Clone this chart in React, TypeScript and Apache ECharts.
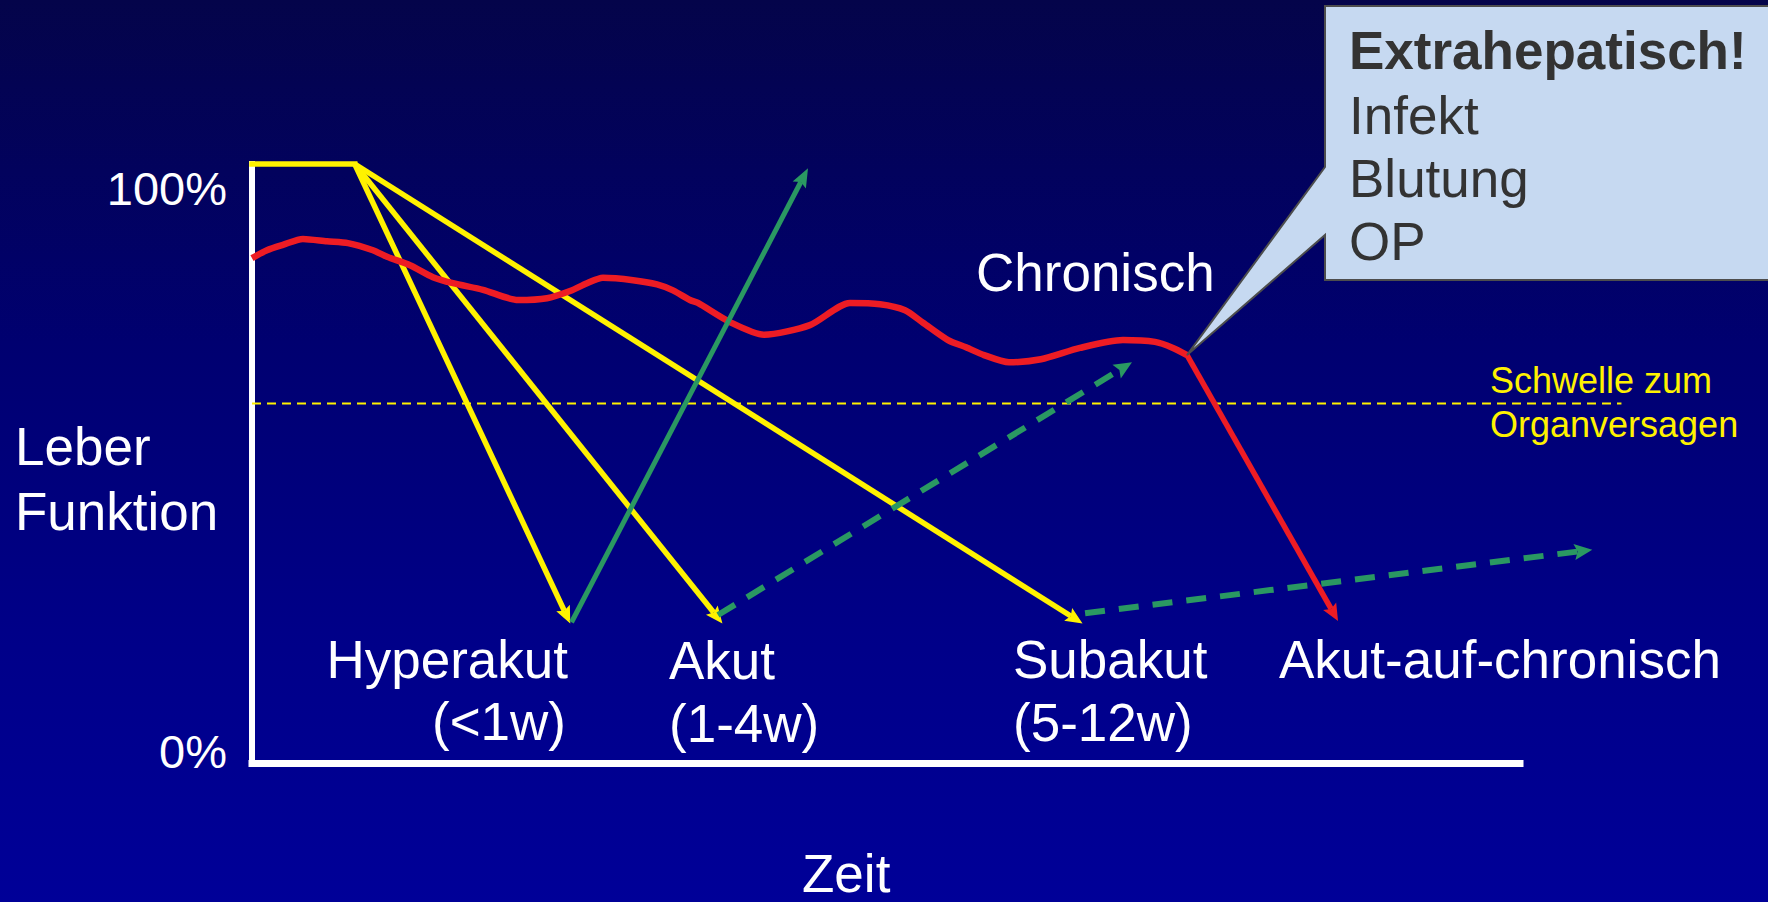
import React, { useEffect, useRef } from 'react';
import * as echarts from 'echarts';

const FONT = '"Liberation Sans", Arial, Helvetica, sans-serif';

// ---- data (x: time, arbitrary units 0..100; y: liver function %) ----
const yTickValues = [0, 100];
const yTickLabels = ['0%', '100%'];
const yAxisName = ['Leber', 'Funktion'];
const xAxisName = 'Zeit';

const plateau = [[0, 100], [8.1, 100]];
const declineStart = [8.1, 100];
const declineEnds = [[25.1, 23.3], [37.1, 23.3], [65.5, 23.3]];

const recoverySolid = [[25.2, 23.5, 43.85, 99.3]];
const recoveryDashed = [[36.75, 24.7, 69.4, 66.9], [65.7, 25.0, 105.7, 35.6]];

const chronicCurve = [
  [0, 84.3], [1.18, 85.6], [2.44, 86.5], [4.02, 87.5], [5.91, 87.1], [7.57, 86.8],
  [9.54, 85.6], [10.65, 84.5], [12.46, 83.1], [14.27, 81.1], [15.85, 80.1], [18.22, 79.0],
  [20.98, 77.3], [23.26, 77.6], [25.08, 78.8], [26.42, 80.1], [27.68, 81.0], [30.05, 80.6],
  [31.94, 79.9], [33.2, 78.9], [34.54, 77.3], [35.17, 76.8], [37.7, 73.6], [40.38, 71.5],
  [44.0, 73.1], [47.16, 76.8], [49.53, 76.6], [51.5, 75.6], [52.92, 73.5], [54.89, 70.6],
  [56.31, 69.4], [57.73, 68.1], [59.7, 66.9], [62.22, 67.4], [65.3, 69.3], [68.69, 70.6],
  [71.21, 70.3], [72.63, 69.3], [73.74, 68.1],
];
const acuteOnChronic = [[73.74, 68.1, 85.65, 23.7]];

const thresholdLevel = 60;
const thresholdExtent = [0, 108];

const phaseNames = ['Hyperakut', 'Akut', 'Subakut', 'Akut-auf-chronisch'];
const phaseDurations = ['(<1w)', '(1-4w)', '(5-12w)'];
const chronicLabel = 'Chronisch';
const thresholdLabel = ['Schwelle zum', 'Organversagen'];
const calloutTitle = 'Extrahepatisch!';
const calloutItems = ['Infekt', 'Blutung', 'OP'];

// ---- colours ----
const YELLOW = '#FFF200';
const RED = '#ED1C24';
const GREEN = '#2A9862';
const WHITE = '#FFFFFF';

function segmentSeries(
  name: string,
  data: number[][],
  color: string,
  width: number,
  dash: number[] | null,
  head: { len: number; w: number } | null,
  z: number
) {
  return {
    type: 'custom',
    name,
    coordinateSystem: 'cartesian2d',
    clip: false,
    z,
    data,
    encode: { x: [0, 2], y: [1, 3] },
    renderItem: (_params: any, api: any) => {
      const a = api.coord([api.value(0), api.value(1)]);
      const b = api.coord([api.value(2), api.value(3)]);
      const style: any = { stroke: color, lineWidth: width, fill: null, lineCap: 'butt' };
      if (dash) style.lineDash = dash;
      if (!head) {
        return { type: 'line', shape: { x1: a[0], y1: a[1], x2: b[0], y2: b[1] }, style };
      }
      const dx = b[0] - a[0];
      const dy = b[1] - a[1];
      const len = Math.hypot(dx, dy) || 1;
      const ux = dx / len;
      const uy = dy / len;
      const base = [b[0] - ux * head.len, b[1] - uy * head.len];
      const notch = [b[0] - ux * head.len * 0.82, b[1] - uy * head.len * 0.82];
      const hw = head.w / 2;
      const left = [base[0] - uy * hw, base[1] + ux * hw];
      const right = [base[0] + uy * hw, base[1] - ux * hw];
      return {
        type: 'group',
        children: [
          { type: 'line', shape: { x1: a[0], y1: a[1], x2: notch[0], y2: notch[1] }, style },
          { type: 'polygon', shape: { points: [b, left, notch, right] }, style: { fill: color, stroke: null } },
        ],
      };
    },
  };
}

function txt(text: string, x: number, y: number, size: number, color: string, align = 'left', weight = 'normal') {
  return {
    type: 'text',
    x,
    y,
    z: 20,
    silent: true,
    style: {
      text,
      fill: color,
      fontSize: size,
      fontFamily: FONT,
      fontWeight: weight,
      lineHeight: Math.round(size * 0.8),
      align,
      verticalAlign: 'middle',
    },
  };
}

export default function App() {
  const ref = useRef<HTMLDivElement>(null);

  useEffect(() => {
    if (!ref.current) return;
    const chart = echarts.init(ref.current, undefined, { renderer: 'svg' });

    chart.setOption({
      animation: false,
      backgroundColor: 'transparent',
      grid: { left: 252, right: 248, top: 164, bottom: 139, containLabel: false },
      xAxis: {
        type: 'value',
        min: 0,
        max: 100,
        axisLine: { show: true, lineStyle: { color: WHITE, width: 7, cap: 'square' } },
        axisTick: { show: false },
        axisLabel: { show: false },
        splitLine: { show: false },
      },
      yAxis: {
        type: 'value',
        min: 0,
        max: 100,
        axisLine: { show: true, lineStyle: { color: WHITE, width: 6, cap: 'square' } },
        axisTick: { show: false },
        axisLabel: { show: false },
        splitLine: { show: false },
      },
      series: [
        segmentSeries(
          'Schwelle',
          [[thresholdExtent[0], thresholdLevel, thresholdExtent[1], thresholdLevel]],
          YELLOW,
          2,
          [9, 6],
          null,
          1
        ),
        {
          type: 'line',
          name: 'Plateau',
          data: plateau,
          symbol: 'none',
          clip: false,
          z: 3,
          lineStyle: { color: YELLOW, width: 5.5, cap: 'square' },
        },
        segmentSeries(
          'Verlauf',
          declineEnds.map((e) => [declineStart[0], declineStart[1], e[0], e[1]]),
          YELLOW,
          5.5,
          null,
          { len: 17, w: 15 },
          3
        ),
        {
          type: 'line',
          name: 'Chronisch',
          data: chronicCurve,
          symbol: 'none',
          smooth: 0.25,
          clip: false,
          z: 4,
          lineStyle: { color: RED, width: 6.5, join: 'round' },
        },
        segmentSeries('Erholung', recoverySolid, GREEN, 5, null, { len: 19, w: 15 }, 5),
        segmentSeries('Erholung verzögert', recoveryDashed, GREEN, 6, [20, 14], { len: 18, w: 16 }, 5),
        segmentSeries('Akut-auf-chronisch', acuteOnChronic, RED, 5.5, null, { len: 17, w: 15 }, 6),
      ],
    });

    const px = (p: number[]) => chart.convertToPixel({ gridIndex: 0 } as any, p) as number[];
    const axisX = px([0, 0])[0];
    const tip = px([acuteOnChronic[0][0], acuteOnChronic[0][1]]);

    const tickOffsets: Record<number, number> = { 0: -11.5, 100: 24.5 };
    const graphics: any[] = [];

    yTickValues.forEach((v, i) => {
      const p = px([0, v]);
      graphics.push(txt(yTickLabels[i], axisX - 25, p[1] + tickOffsets[v], 47, WHITE, 'right'));
    });

    graphics.push(txt(yAxisName[0], 15, 446.5, 53, WHITE));
    graphics.push(txt(yAxisName[1], 15, 511.5, 53, WHITE));
    graphics.push(txt(xAxisName, 802, 873, 53, WHITE));

    // phase labels
    graphics.push(txt(phaseNames[0], 568, 659, 53, WHITE, 'right'));
    graphics.push(txt(phaseDurations[0], 566, 721, 53, WHITE, 'right'));
    graphics.push(txt(phaseNames[1], 669, 660, 53, WHITE));
    graphics.push(txt(phaseDurations[1], 669, 723, 53, WHITE));
    graphics.push(txt(phaseNames[2], 1013, 659.5, 53, WHITE));
    graphics.push(txt(phaseDurations[2], 1013, 722.5, 53, WHITE));
    graphics.push(txt(phaseNames[3], 1279, 659.5, 53, WHITE));

    graphics.push(txt(chronicLabel, 976, 272.5, 53, WHITE));
    graphics.push(txt(thresholdLabel[0], 1490, 380.5, 36, YELLOW));
    graphics.push(txt(thresholdLabel[1], 1490, 424.5, 36, YELLOW));

    // callout
    graphics.push({
      type: 'polygon',
      z: 15,
      silent: true,
      shape: {
        points: [
          [1325, 6], [1785, 6], [1785, 280], [1325, 280], [1325, 235],
          [tip[0], tip[1]], [1325, 167],
        ],
      },
      style: { fill: '#C6D9F1', stroke: '#4D4D4D', lineWidth: 2 },
    });
    graphics.push(txt(calloutTitle, 1349, 50.5, 53, '#333333', 'left', 'bold'));
    calloutItems.forEach((t, i) => {
      graphics.push(txt(t, 1349, 115 + i * 63.4, 53, '#333333'));
    });

    chart.setOption({ graphic: graphics });

    return () => chart.dispose();
  }, []);

  return (
    <div
      ref={ref}
      style={{
        position: 'fixed',
        left: 0,
        top: 0,
        width: 1768,
        height: 902,
        background: 'linear-gradient(to bottom, #04044a 0%, #000070 38%, #000088 70%, #000098 100%)',
      }}
    />
  );
}
